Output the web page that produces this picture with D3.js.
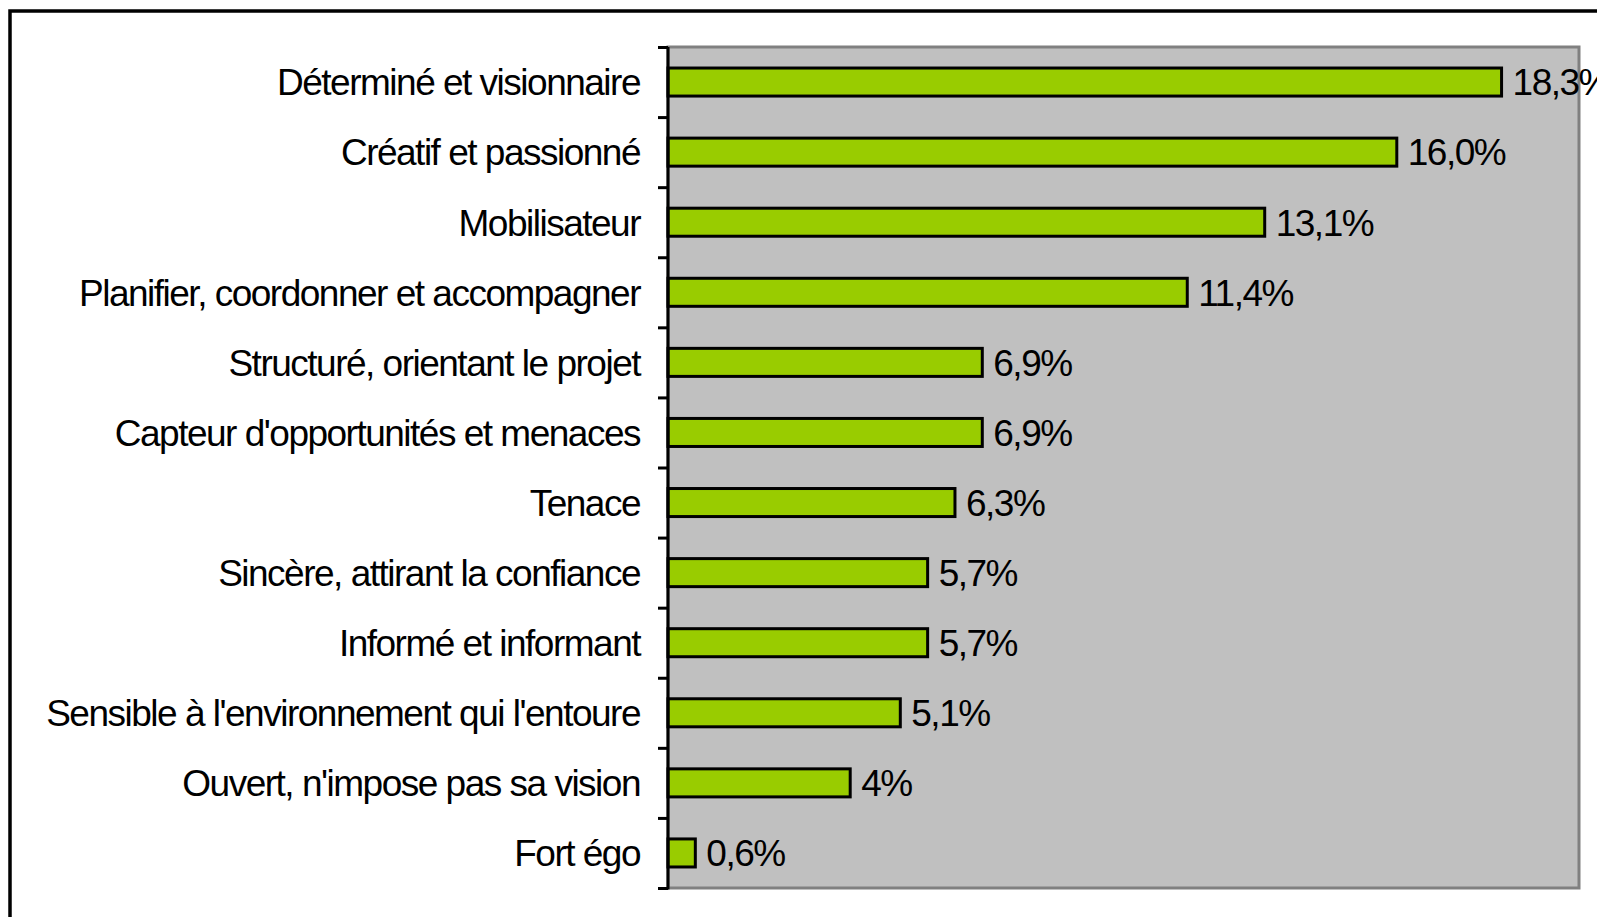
<!DOCTYPE html>
<html>
<head>
<meta charset="utf-8">
<script src="https://cdn.jsdelivr.net/npm/d3@7"></script>
<style>
  body { margin: 0; background: #fff; }
  svg { display: block; }
  text { font-family: "Liberation Sans", Arial, sans-serif; }
</style>
</head>
<body>
<div id="chart-area"></div>
<script>
// data
var categories = [
  "Déterminé et visionnaire",
  "Créatif et passionné",
  "Mobilisateur",
  "Planifier, coordonner et accompagner",
  "Structuré, orientant le projet",
  "Capteur d'opportunités et menaces",
  "Tenace",
  "Sincère, attirant la confiance",
  "Informé et informant",
  "Sensible à l'environnement qui l'entoure",
  "Ouvert, n'impose pas sa vision",
  "Fort égo"
]
var values = [18.3, 16.0, 13.1, 11.4, 6.9, 6.9, 6.3, 5.7, 5.7, 5.1, 4.0, 0.6]
var valueLabels = ["18,3%", "16,0%", "13,1%", "11,4%", "6,9%", "6,9%", "6,3%", "5,7%", "5,7%", "5,1%", "4%", "0,6%"]

var W = 1597, H = 917
var margin = { left: 668, right: 18, top: 47, bottom: 29 }
var width = W - margin.left - margin.right,
    height = H - margin.top - margin.bottom

var svg = d3.select("#chart-area").append("svg")
  .attr("width", W)
  .attr("height", H)

// outer frame (runs off the right / bottom of the picture)
svg.append("rect")
  .attr("x", 10)
  .attr("y", 11)
  .attr("width", W + 20)
  .attr("height", H + 20)
  .attr("fill", "none")
  .attr("stroke", "#000")
  .attr("stroke-width", 3.5)

var g = svg.append("g")
  .attr("transform", "translate(" + margin.left + "," + margin.top + ")")

var x = d3.scaleLinear()
  .domain([0, 20])
  .range([0, width])

var y = d3.scaleBand()
  .domain(categories)
  .range([0, height])
  .paddingInner(0.6)
  .paddingOuter(0.3)

// separate scale for the tick marks between categories
var yIdx = d3.scaleLinear()
  .domain([0, categories.length])
  .range([0, height])

// plot area
g.append("rect")
  .attr("x", 0)
  .attr("y", 0)
  .attr("width", width)
  .attr("height", height)
  .attr("fill", "#c0c0c0")
  .attr("stroke", "#808080")
  .attr("stroke-width", 3)

// bars
g.selectAll("rect.bar")
  .data(values)
  .enter().append("rect")
    .attr("class", "bar")
    .attr("x", x(0))
    .attr("y", function(d, i) { return y(categories[i]) })
    .attr("width", function(d) { return x(d) - x(0) })
    .attr("height", y.bandwidth())
    .attr("fill", "#99cc00")
    .attr("stroke", "#000")
    .attr("stroke-width", 3)

// value labels
g.selectAll("text.val")
  .data(values)
  .enter().append("text")
    .attr("class", "val")
    .attr("x", function(d) { return x(d) + 11 })
    .attr("y", function(d, i) { return y(categories[i]) + y.bandwidth() / 2 })
    .attr("dy", "0.36em")
    .attr("font-size", "37px")
    .attr("letter-spacing", "-1.5px")
    .attr("fill", "#000")
    .text(function(d, i) { return valueLabels[i] })

// category axis: tick marks at band boundaries
var tickAxis = d3.axisLeft(yIdx)
  .tickValues(d3.range(categories.length + 1))
  .tickSize(10)
  .tickFormat("")

var tg = g.append("g")
  .attr("class", "y axis")
  .call(tickAxis)
tg.select(".domain").remove()
tg.selectAll("line").attr("stroke", "#000").attr("stroke-width", 3)

// axis line
g.append("line")
  .attr("x1", 0).attr("x2", 0)
  .attr("y1", 0).attr("y2", height + 1.5)
  .attr("stroke", "#000")
  .attr("stroke-width", 3)

// category labels
var labelAxis = d3.axisLeft(y)
  .tickSize(0)
  .tickPadding(28)

var lg = g.append("g")
  .call(labelAxis)
lg.select(".domain").remove()
lg.selectAll("text")
  .attr("font-family", "'Liberation Sans', Arial, sans-serif")
  .attr("font-size", "37px")
  .attr("letter-spacing", "-1.5px")
  .attr("fill", "#000")
  .attr("dy", "0.36em")
</script>
</body>
</html>
